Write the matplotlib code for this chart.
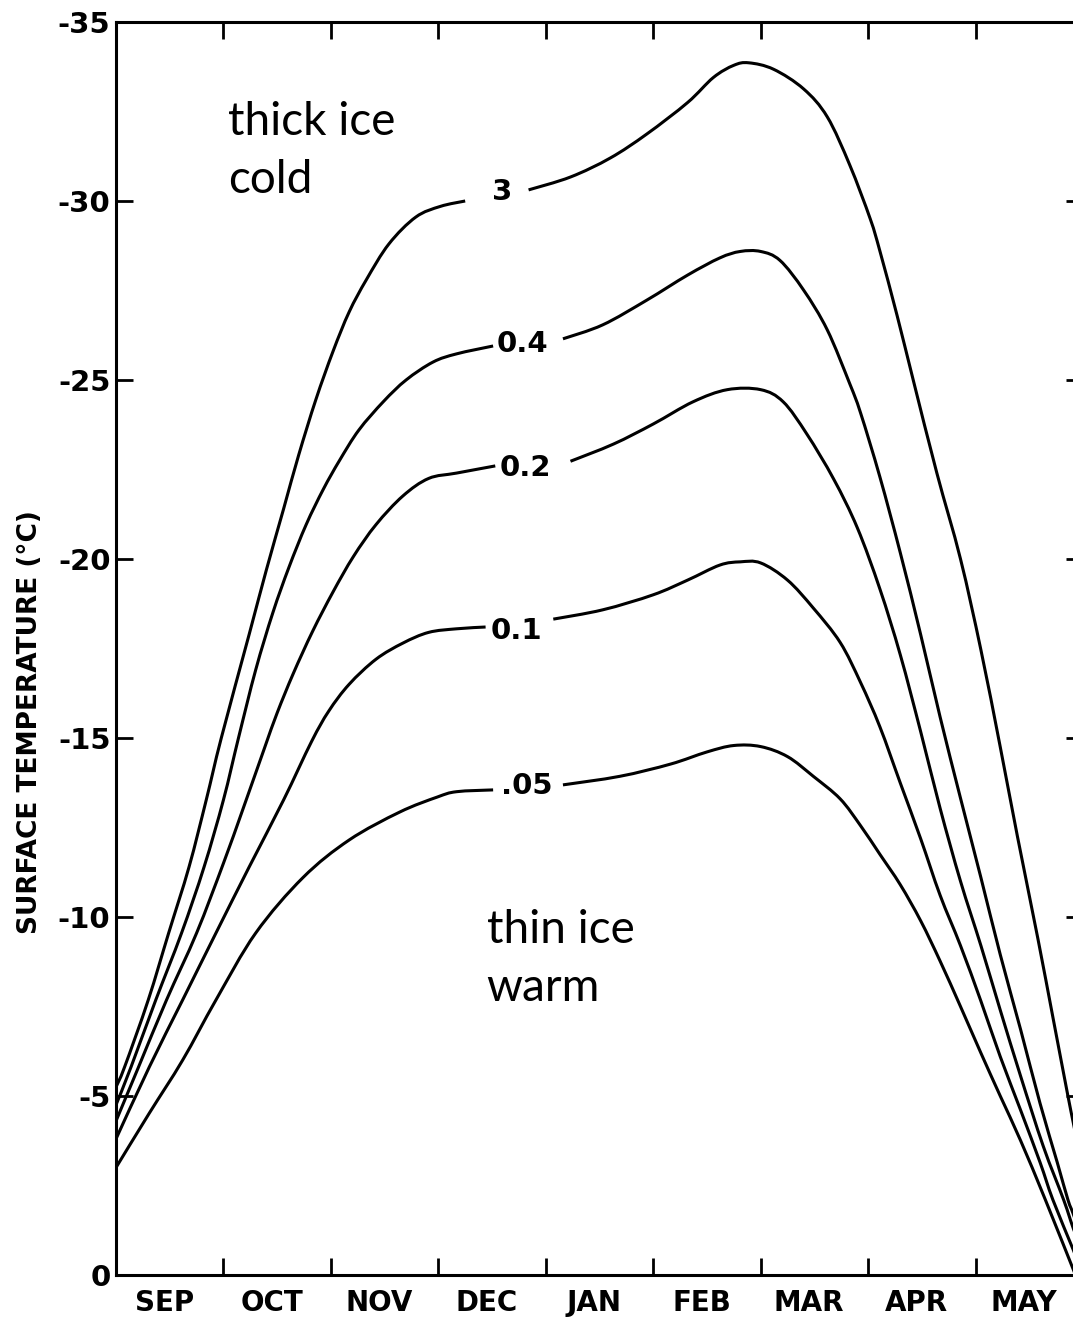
import matplotlib
matplotlib.use("Agg")
import matplotlib.pyplot as plt
from matplotlib.path import Path
from matplotlib.patches import PathPatch

# months along the x axis, one unit per month starting 1 Sep
months = ["SEP", "OCT", "NOV", "DEC", "JAN", "FEB", "MAR", "APR", "MAY"]
yticks = [0, -5, -10, -15, -20, -25, -30, -35]
ytick_labels = ["0", "-5", "-10", "-15", "-20", "-25", "-30", "-35"]

# ice thickness 3 m
x3_left = [0, 0.08, 0.30, 0.49, 0.68, 0.84, 0.98, 1.24, 1.40, 1.56, 1.70, 1.86, 2.02, 2.17, 2.33, 2.54, 2.79, 3.02, 3.25]
t3_left = [-5.25, -5.81, -7.68, -9.55, -11.4, -13.27, -15.0, -17.9, -19.7, -21.4, -22.9, -24.45, -25.8, -26.9, -27.8, -28.8, -29.55, -29.85, -30.0]
x3_right = [3.84, 4.23, 4.60, 4.94, 5.32, 5.56, 5.75, 5.89, 6.12, 6.40, 6.62, 6.83, 7.02, 7.11, 7.27, 7.42, 7.64, 7.86, 8.05, 8.23, 8.39, 8.58, 8.72, 8.86, 8.91, 9.0]
t3_right = [-30.31, -30.67, -31.2, -31.87, -32.75, -33.45, -33.79, -33.86, -33.68, -33.13, -32.35, -31.0, -29.5, -28.6, -26.8, -25.0, -22.4, -20.0, -17.46, -14.75, -12.25, -9.4, -7.2, -5.0, -4.25, -2.9]

# 0.4 m
x04_left = [0, 0.14, 0.37, 0.61, 0.82, 1.00, 1.14, 1.30, 1.46, 1.61, 1.77, 1.93, 2.08, 2.26, 2.49, 2.70, 2.95, 3.17, 3.51]
t04_left = [-4.75, -5.81, -7.68, -9.55, -11.4, -13.27, -15.0, -16.9, -18.5, -19.77, -20.96, -21.95, -22.75, -23.6, -24.4, -25.0, -25.5, -25.73, -25.95]
x04_right = [4.16, 4.53, 4.94, 5.32, 5.62, 5.81, 6.00, 6.18, 6.40, 6.62, 6.83, 6.93, 7.11, 7.30, 7.49, 7.67, 7.86, 8.05, 8.23, 8.42, 8.60, 8.76, 8.86, 8.91, 9.0]
t04_right = [-26.15, -26.54, -27.23, -27.93, -28.41, -28.59, -28.59, -28.34, -27.51, -26.4, -24.89, -24.08, -22.29, -20.17, -17.88, -15.59, -13.32, -11.1, -8.95, -6.85, -4.8, -3.15, -2.1, -1.7, -0.9]

# 0.2 m
x02_left = [0, 0.21, 0.47, 0.75, 1.00, 1.18, 1.38, 1.50, 1.65, 1.83, 2.02, 2.21, 2.42, 2.67, 2.91, 3.17, 3.53]
t02_left = [-4.3, -5.81, -7.68, -9.55, -11.5, -13.0, -14.7, -15.7, -16.8, -17.98, -19.08, -20.07, -20.96, -21.76, -22.25, -22.4, -22.6]
x02_right = [4.23, 4.63, 5.00, 5.37, 5.69, 6.00, 6.21, 6.43, 6.68, 6.90, 7.11, 7.30, 7.49, 7.67, 7.86, 8.05, 8.23, 8.42, 8.63, 8.82, 8.91, 9.0]
t02_right = [-22.73, -23.21, -23.77, -24.39, -24.73, -24.73, -24.39, -23.49, -22.23, -20.87, -19.16, -17.32, -15.17, -13.04, -11.0, -9.2, -7.4, -5.55, -3.6, -2.1, -1.3, -0.6]

# 0.1 m
x01_left = [0, 0.31, 0.62, 0.93, 1.24, 1.56, 1.82, 1.98, 2.17, 2.42, 2.67, 2.91, 3.17, 3.44]
t01_left = [-3.8, -5.81, -7.68, -9.55, -11.4, -13.27, -14.9, -15.75, -16.5, -17.2, -17.65, -17.95, -18.05, -18.1]
x01_right = [4.07, 4.53, 5.00, 5.32, 5.62, 5.81, 6.00, 6.25, 6.49, 6.74, 6.93, 7.11, 7.30, 7.49, 7.67, 7.86, 8.05, 8.23, 8.42, 8.60, 8.72, 8.91, 9.0]
t01_right = [-18.32, -18.58, -19.0, -19.41, -19.83, -19.92, -19.89, -19.41, -18.63, -17.67, -16.55, -15.31, -13.74, -12.18, -10.61, -9.2, -7.65, -6.1, -4.6, -3.15, -2.1, -0.7, 0]

# 0.05 m
x005_left = [0, 0.31, 0.62, 0.93, 1.30, 1.74, 2.17, 2.64, 2.99, 3.17, 3.51]
t005_left = [-3.0, -4.52, -6.0, -7.68, -9.55, -11.1, -12.15, -12.93, -13.35, -13.5, -13.55]
x005_right = [4.16, 4.69, 5.16, 5.50, 5.75, 6.00, 6.25, 6.49, 6.74, 6.93, 7.11, 7.30, 7.49, 7.67, 7.86, 8.05, 8.23, 8.42, 8.65, 8.93]
t005_right = [-13.69, -13.93, -14.27, -14.61, -14.79, -14.76, -14.48, -13.93, -13.3, -12.55, -11.75, -10.9, -9.89, -8.77, -7.5, -6.2, -5.0, -3.75, -2.1, 0]

curve_labels = ["3", "0.4", "0.2", "0.1", ".05"]


def smooth_line(ax, xs, ys):
    # smooth pen line through the read points (Catmull-Rom as Bezier segments)
    pts = list(zip(xs, ys))
    n = len(pts)
    verts = [pts[0]]
    codes = [Path.MOVETO]
    for i in range(n - 1):
        p0 = pts[max(i - 1, 0)]
        p1 = pts[i]
        p2 = pts[i + 1]
        p3 = pts[min(i + 2, n - 1)]
        c1 = (p1[0] + (p2[0] - p0[0]) / 6, p1[1] + (p2[1] - p0[1]) / 6)
        c2 = (p2[0] - (p3[0] - p1[0]) / 6, p2[1] - (p3[1] - p1[1]) / 6)
        verts += [c1, c2, p2]
        codes += [Path.CURVE4] * 3
    ax.add_patch(PathPatch(Path(verts, codes), fill=False, lw=2.2, ec="black"))


fig = plt.figure(figsize=(10.73, 13.17), dpi=100)
ax = fig.add_axes([0.1081, 0.0319, 0.9012, 0.9514])

pieces = [
    (x3_left, t3_left, x3_right, t3_right, (3.59, -30.25)),
    (x04_left, t04_left, x04_right, t04_right, (3.78, -26.0)),
    (x02_left, t02_left, x02_right, t02_right, (3.81, -22.55)),
    (x01_left, t01_left, x01_right, t01_right, (3.73, -18.0)),
    (x005_left, t005_left, x005_right, t005_right, (3.82, -13.65)),
]
for (xl, tl, xr, tr, pos), lab in zip(pieces, curve_labels):
    smooth_line(ax, xl, tl)
    smooth_line(ax, xr, tr)
    ax.text(pos[0], pos[1], lab, fontsize=21, fontweight="bold",
            ha="center", va="center")

ax.set_xlim(0, 9)
ax.set_ylim(0, -35)

ax.set_xticks(range(1, 9))
ax.set_xticklabels([])
ax.set_xticks([i + 0.45 for i in range(9)], minor=True)
ax.set_xticklabels(months, minor=True, fontsize=20, fontweight="bold")
ax.tick_params(axis="x", which="minor", length=0, pad=10)
ax.tick_params(which="major", direction="in", length=12, width=2,
               top=True, right=True)

ax.set_yticks(yticks)
ax.set_yticklabels(ytick_labels, fontsize=21, fontweight="bold")
ax.tick_params(axis="y", pad=4)

for s in ax.spines.values():
    s.set_linewidth(2.2)

ax.set_ylabel("SURFACE TEMPERATURE (°C)", fontsize=19, fontweight="bold")
ax.yaxis.set_label_coords(-0.0755, 0.441)

ax.text(1.04, -31.84, "thick ice", fontsize=33, family="Lato", va="baseline")
ax.text(1.04, -30.22, "cold", fontsize=33, family="Lato", va="baseline")
ax.text(3.45, -9.27, "thin ice", fontsize=33, family="Lato", va="baseline")
ax.text(3.45, -7.65, "warm", fontsize=33, family="Lato", va="baseline")

fig.savefig("out.png", dpi=100)
